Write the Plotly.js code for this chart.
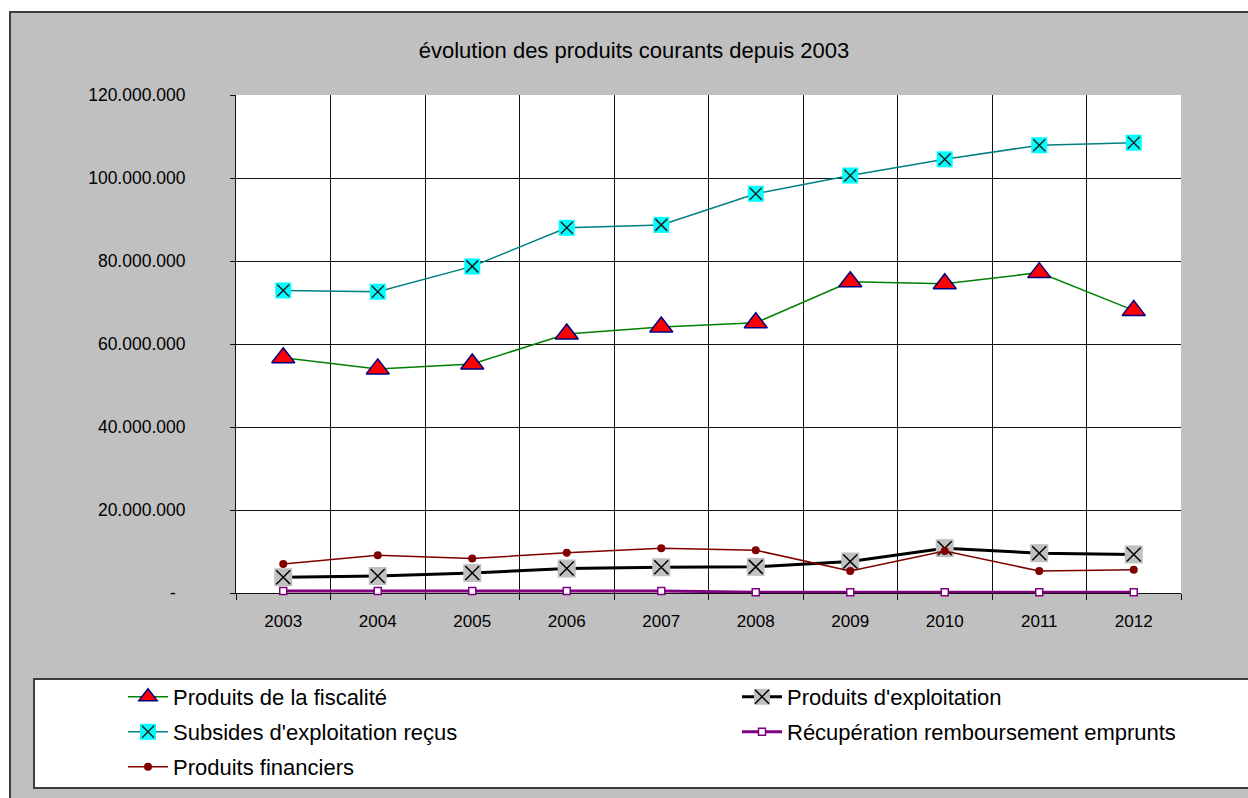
<!DOCTYPE html>
<html>
<head>
<meta charset="utf-8">
<script src="https://cdn.plot.ly/plotly-3.0.1.min.js"></script>
<style>
  html, body { margin: 0; padding: 0; background: #fff; width: 1248px; height: 798px; overflow: hidden; }
  #frame { position: absolute; left: 9px; top: 11px; width: 1300px; height: 900px; background: #c0c0c0;
           border-left: 2px solid #3c3c3c; border-top: 2px solid #3c3c3c; box-sizing: border-box; }
  #legendbox { position: absolute; left: 33px; top: 678px; width: 1300px; height: 111px; background: #fff;
               border: 2px solid #3c3c3c; box-sizing: border-box; }
  #chart { position: absolute; left: 0; top: 0; width: 1248px; height: 798px; }
</style>
</head>
<body>
<div id="frame"></div>
<div id="legendbox"></div>
<div id="chart"></div>
<script>
// Years on the category axis
const years = ['2003', '2004', '2005', '2006', '2007', '2008', '2009', '2010', '2011', '2012'];

// Series values (EUR)
const fiscalite    = [56700000, 54000000, 55200000, 62400000, 64100000, 65100000, 75000000, 74500000, 77200000, 68100000];
const exploitation = [3800000, 4100000, 4800000, 5900000, 6200000, 6300000, 7600000, 10800000, 9600000, 9300000];
const subsides     = [72900000, 72600000, 78700000, 88000000, 88700000, 96200000, 100600000, 104500000, 107900000, 108500000];
const recuperation = [500000, 500000, 500000, 500000, 500000, 200000, 200000, 200000, 200000, 200000];
const financiers   = [7000000, 9100000, 8300000, 9700000, 10800000, 10300000, 5300000, 10100000, 5300000, 5600000];

// Value axis ticks
const yTickVals = [0, 20000000, 40000000, 60000000, 80000000, 100000000, 120000000];
const yTickText = ['-\u00a0\u00a0', '20.000.000', '40.000.000', '60.000.000', '80.000.000', '100.000.000', '120.000.000'];

const FONT = 'Liberation Sans, Arial, sans-serif';

// Plot-area geometry in page pixels, used to place the legend rows
const PL = 236, PR = 1181, PT = 95, PB = 594;
const fx = px => (px - PL) / (PR - PL);
const fy = py => (PB - py) / (PB - PT);

const COL1 = 123, COL2 = 737;
const ROW1 = 697, ROW2 = 732, ROW3 = 767;

function legendAt(px, py) {
  return {
    x: fx(px), y: fy(py), xanchor: 'left', yanchor: 'middle',
    bgcolor: 'rgba(0,0,0,0)', borderwidth: 0, itemwidth: 40,
    font: { family: FONT, size: 22, color: '#000' }
  };
}

const traces = [
  {
    name: 'Produits de la fiscalité', x: years, y: fiscalite, type: 'scatter', mode: 'lines+markers',
    line: { color: '#008000', width: 1.5 },
    marker: { symbol: 'triangle-up', size: 20, color: '#ff0000', line: { color: '#000080', width: 1.5 } },
    legend: 'legend'
  },
  {
    name: "Produits d'exploitation", x: years, y: exploitation, type: 'scatter', mode: 'lines+markers',
    line: { color: '#000000', width: 3 },
    marker: { symbol: 'square', size: 18, color: '#c0c0c0', line: { width: 0 } },
    legend: 'legend2'
  },
  {
    name: ' ', x: years, y: exploitation, type: 'scatter', mode: 'markers',
    marker: { symbol: 'x-thin', size: 14, color: '#000', line: { color: '#000', width: 1.5 } },
    legend: 'legend6'
  },
  {
    name: "Subsides d'exploitation reçus", x: years, y: subsides, type: 'scatter', mode: 'lines+markers',
    line: { color: '#008080', width: 1.5 },
    marker: { symbol: 'square', size: 16, color: '#00ffff', line: { width: 0 } },
    legend: 'legend3'
  },
  {
    name: ' ', x: years, y: subsides, type: 'scatter', mode: 'markers',
    marker: { symbol: 'x-thin', size: 12, color: '#222', line: { color: '#222', width: 1.5 } },
    legend: 'legend7'
  },
  {
    name: 'Récupération remboursement emprunts', x: years, y: recuperation, type: 'scatter', mode: 'lines+markers',
    line: { color: '#800080', width: 3 },
    marker: { symbol: 'square', size: 7, color: '#ffffff', line: { color: '#800080', width: 1.5 } },
    cliponaxis: false,
    legend: 'legend4'
  },
  {
    name: 'Produits financiers', x: years, y: financiers, type: 'scatter', mode: 'lines+markers',
    line: { color: '#800000', width: 1.5 },
    marker: { symbol: 'circle', size: 8, color: '#800000', line: { width: 0 } },
    legend: 'legend5'
  }
];

const layout = {
  width: 1248, height: 798,
  margin: { l: PL, r: 1248 - PR, t: PT, b: 798 - PB, pad: 0 },
  paper_bgcolor: 'rgba(0,0,0,0)',
  plot_bgcolor: '#ffffff',
  showlegend: true,
  title: {
    text: 'évolution des produits courants depuis 2003',
    font: { family: FONT, size: 22, color: '#000' },
    xref: 'container', yref: 'container', x: 0.508, xanchor: 'center', y: 1 - 50 / 798, yanchor: 'middle'
  },
  xaxis: {
    type: 'category', range: [-0.5, 9.5], tickson: 'boundaries',
    showgrid: true, gridcolor: '#111', gridwidth: 1,
    showline: true, linecolor: '#111', linewidth: 1,
    ticks: 'outside', ticklen: 6, tickcolor: '#111', tickwidth: 1,
    ticklabelstandoff: 13,
    tickfont: { family: FONT, size: 17, color: '#000' },
    zeroline: false, layer: 'below traces'
  },
  yaxis: {
    range: [0, 120000000], tickvals: yTickVals, ticktext: yTickText,
    showgrid: true, gridcolor: '#111', gridwidth: 1,
    showline: true, linecolor: '#111', linewidth: 1,
    ticks: 'outside', ticklen: 5, tickcolor: '#111', tickwidth: 1,
    ticklabelstandoff: 41,
    tickfont: { family: FONT, size: 17.5, color: '#000' },
    zeroline: false, layer: 'below traces'
  },
  legend:  legendAt(COL1, ROW1),
  legend2: legendAt(COL2, ROW1),
  legend3: legendAt(COL1, ROW2),
  legend4: legendAt(COL2, ROW2),
  legend5: legendAt(COL1, ROW3),
  legend6: legendAt(COL2, ROW1),
  legend7: legendAt(COL1, ROW2)
};

Plotly.newPlot('chart', traces, layout, { staticPlot: true, displayModeBar: false });
</script>
</body>
</html>
